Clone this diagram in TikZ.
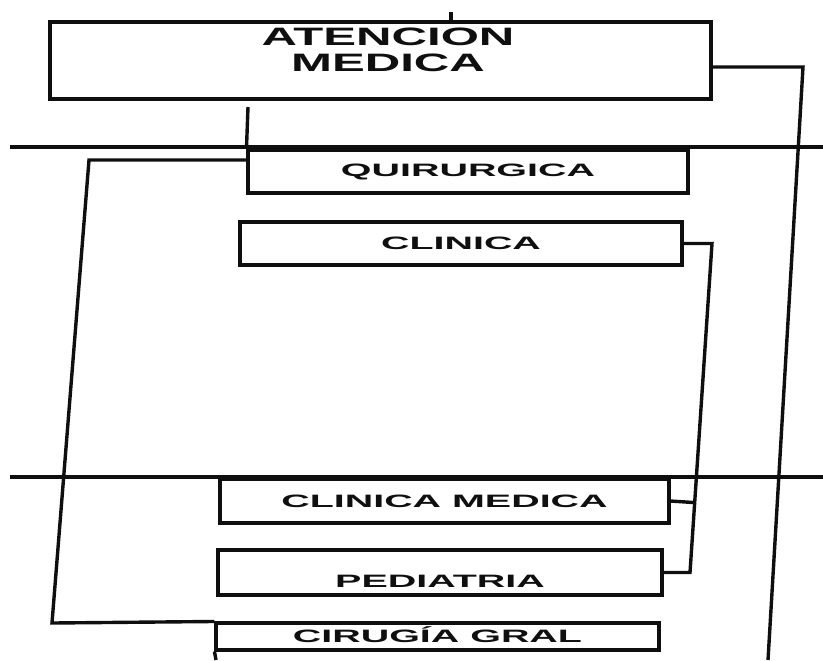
\documentclass[tikz,border=0pt]{standalone}
\usepackage{fontspec}
\newfontfamily\boxfont{Liberation Sans}[FakeStretch=2.2]
\newfontfamily\titlefont{Liberation Sans}[FakeStretch=1.95]
\usetikzlibrary{calc}

\def\px{0.03cm}

\begin{document}
\begin{tikzpicture}[x=0.03cm, y=-0.03cm,
    box/.style={draw=linecolor, line width=2.6pt, inner sep=0pt, text=linecolor,
      font=\boxfont\bfseries\fontsize{15.3}{16}\selectfont},
    wire/.style={draw=linecolor, line width=2.9pt},
    rule/.style={draw=linecolor, line width=3.6pt}]
    % Define colors
    \definecolor{linecolor}{RGB}{15, 15, 15}

    % Fix the page to the size of the scan
    \useasboundingbox (0, 0) rectangle (823, 660);

    % Define y-coordinates of the two rules
    \def\yrowI{147}
    \def\yrowII{477}

    % Boxes of the chart
    \node[box, minimum width=661*\px, minimum height=77*\px] (atencion) at (380.5, 60.5) {};
    \node[font=\titlefont\bfseries\fontsize{21.5}{22}\selectfont, align=center, text=linecolor]
        (atenciontext) at (388, 50) {ATENCION\\MEDICA};
    \node[box, minimum width=440*\px, minimum height=43*\px] (quirurgica) at (468, 171.5) {QUIRURGICA};
    \node[box, minimum width=442*\px, minimum height=43*\px] (clinica) at (461, 243.5) {CLINICA};
    \node[box, minimum width=449*\px, minimum height=44*\px] (clinicamedica) at (444.5, 501) {CLINICA MEDICA};
    \node[box, minimum width=444*\px, minimum height=45*\px, text height=26pt, text depth=0pt]
        (pediatria) at (440, 572.5) {PEDIATRIA};
    \node[box, minimum width=443*\px, minimum height=27*\px, text height=11pt, text depth=0pt]
        (cirugia) at (437.5, 636.5) {CIRUGÍA GRAL};

    % Define the bends and free ends of the connectors
    \coordinate (topstub) at (451, 12);
    \coordinate (rightbend) at (803, 67);
    \coordinate (rightend) at (768, 660);
    \coordinate (quirstub) at (248, 107);
    \coordinate (leftbend) at (89, 160);
    \coordinate (leftfoot) at (52, 623);
    \coordinate (clinbend) at (712, 243.5);
    \coordinate (clinfoot) at (690, 572.5);
    \coordinate (cirend) at (216, 660);

    % Ends of the two rules
    \coordinate (ruleIL) at (10, \yrowI);
    \coordinate (ruleIR) at (823, \yrowI);
    \coordinate (ruleIIL) at (10, \yrowII);
    \coordinate (ruleIIR) at (823, \yrowII);

    % Draw the rules
    \draw[rule] (ruleIL) -- (ruleIR);
    \draw[rule] (ruleIIL) -- (ruleIIR);

    % Draw the connectors
    \draw[wire] (topstub) -- (topstub |- atencion.north);
    \draw[wire] (atencion.east |- rightbend) -- (rightbend) -- (rightend);
    \draw[wire] (quirstub) -- (quirurgica.north west);
    \draw[wire] (quirurgica.west |- leftbend) -- (leftbend) -- (leftfoot) -- (cirugia.north west);
    \draw[wire] (clinica.east) -- (clinbend) -- (clinfoot) -- (pediatria.east);
    \draw[wire] (clinicamedica.east) -- ($(clinbend)!(clinicamedica.east)!(clinfoot)$);
    \draw[wire] (cirugia.south west) -- (cirend);

\end{tikzpicture}
\end{document}
